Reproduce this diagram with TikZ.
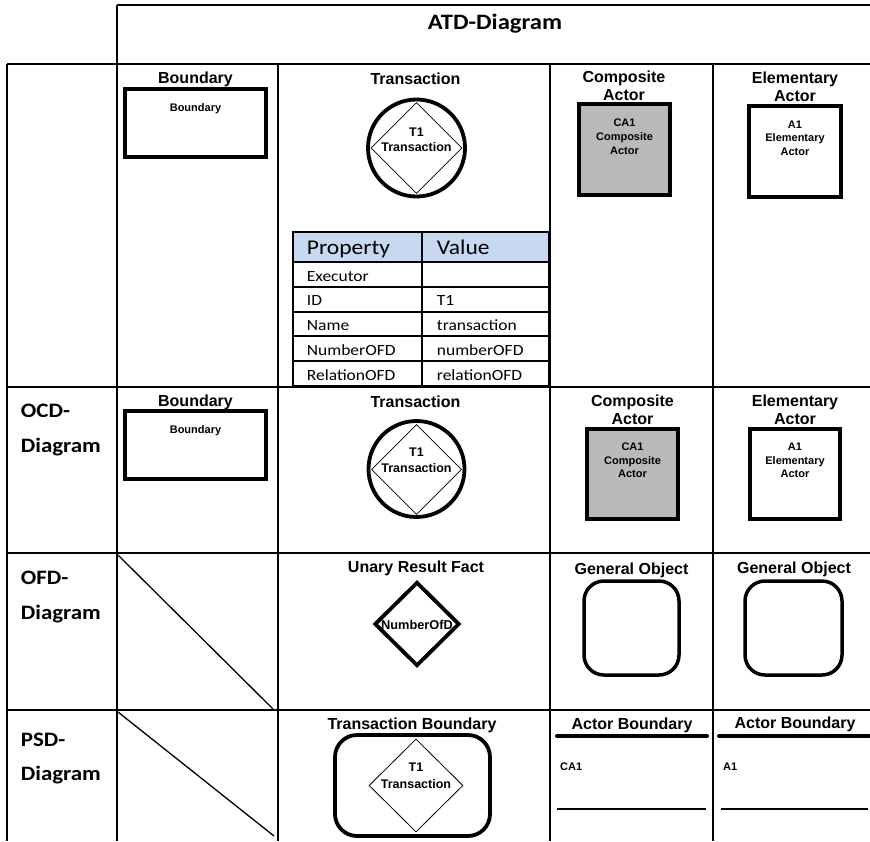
\documentclass[tikz,border=0pt]{standalone}
\usepackage{fontspec}
\setmainfont{Liberation Sans}
\newfontfamily\calfont[FakeStretch=1.12]{Carlito}
\usetikzlibrary{shapes.geometric}
\definecolor{compgray}{RGB}{185,185,185}
\definecolor{hdrblue}{RGB}{198,217,241}
\begin{document}
\begin{tikzpicture}[x=1pt,y=-1pt,
  gridline/.style={line width=2.8pt},
  thk/.style={draw, line width=3.8pt, inner sep=0pt},
  thn/.style={draw, line width=0.8pt, inner sep=0pt},
  ttl/.style={font=\fontsize{16}{18}\selectfont\bfseries, anchor=base, inner sep=0pt},
  inr/.style={font=\fontsize{11.5}{13}\selectfont\bfseries, anchor=base, inner sep=0pt},
  rowlbl/.style={font=\calfont\fontsize{20.5}{24}\selectfont\bfseries, anchor=base west, inner sep=0pt},
  tabtxt/.style={font=\calfont\fontsize{15.6}{17}\selectfont, anchor=base west, inner sep=0pt},
  tabhdr/.style={font=\calfont\fontsize{21}{25}\selectfont, anchor=base west, inner sep=0pt}]
\useasboundingbox (0,0) rectangle (870,841);
\fill[white] (0,0) rectangle (870,841);
% grid
\draw[gridline] (117,5) -- (870,5);
\draw[gridline] (117,5) -- (117,841);
\draw[gridline] (7,64) -- (870,64);
\draw[gridline] (7,64) -- (7,841);
\draw[gridline] (278,64) -- (278,841);
\draw[gridline] (550,64) -- (550,841);
\draw[gridline] (713,64) -- (713,841);
\draw[gridline] (7,387) -- (870,387);
\draw[gridline] (7,553) -- (870,553);
\draw[gridline] (7,710) -- (870,710);
% header
\node[font=\calfont\fontsize{22}{26}\selectfont\bfseries, anchor=base, inner sep=0pt] (hdr) at (495,29.3) {ATD-Diagram};
% row labels
\node[rowlbl] (ocd1) at (20.7,417.7) {OCD-};
\node[rowlbl] (ocd2) at (20.7,452.7) {Diagram};
\node[rowlbl] (ofd1) at (20.7,584.3) {OFD-};
\node[rowlbl] (ofd2) at (20.7,619.3) {Diagram};
\node[rowlbl] (psd1) at (20.7,746.5) {PSD-};
\node[rowlbl] (psd2) at (20.7,780) {Diagram};

% ===== Row 1 (ATD) =====
\node[ttl] (t1a) at (195.5,83.3) {Boundary};
\node[thk, minimum width=141pt, minimum height=68pt] (bnd1) at (195.5,123) {};
\node[inr, font=\fontsize{11}{13}\selectfont\bfseries] (bnd1t) at (195.5,111) {Boundary};

\node[ttl] (t1b) at (415.5,84.5) {Transaction};
\node[thk, circle, minimum size=97pt] (circ1) at (416.5,148) {};
\node[thn, diamond, aspect=1, minimum width=91pt, minimum height=91pt] (dia1) at (416.5,148) {};
\node[inr, font=\fontsize{12.5}{14}\selectfont\bfseries] (dia1a) at (416.5,136) {T1};
\node[inr, font=\fontsize{12.5}{14}\selectfont\bfseries] (dia1b) at (416.5,151.7) {Transaction};

\node[ttl] (t1c) at (624,82) {Composite};
\node[ttl] (t1c2) at (624,100) {Actor};
\node[thk, fill=compgray, minimum width=91pt, minimum height=91pt] (ca1) at (624.5,149.5) {};
\node[inr, font=\fontsize{11}{13}\selectfont\bfseries] (ca1a) at (624.5,126.7) {CA1};
\node[inr, font=\fontsize{11}{13}\selectfont\bfseries] (ca1b) at (624.5,140) {Composite};
\node[inr, font=\fontsize{11}{13}\selectfont\bfseries] (ca1c) at (624.5,154) {Actor};

\node[ttl] (t1d) at (795,83.3) {Elementary};
\node[ttl] (t1d2) at (795,101.7) {Actor};
\node[thk, fill=white, minimum width=92pt, minimum height=91pt] (ea1) at (795,151.5) {};
\node[inr, font=\fontsize{11}{13}\selectfont\bfseries] (ea1a) at (795,128) {A1};
\node[inr, font=\fontsize{11}{13}\selectfont\bfseries] (ea1b) at (795,141.7) {Elementary};
\node[inr, font=\fontsize{11}{13}\selectfont\bfseries] (ea1c) at (795,155.7) {Actor};

% table
\fill[hdrblue] (293,232) rectangle (549,262);
\draw[line width=1.6pt] (293,232) rectangle (549,386);
\foreach \yy in {262,287,312,336,361} \draw[line width=1.3pt] (293,\yy) -- (549,\yy);
\draw[line width=1.3pt] (422,232) -- (422,386);
\node[tabhdr] (tp) at (306.7,254.3) {Property};
\node[tabhdr] (tv) at (436.7,254.3) {Value};
\node[tabtxt] (r1a) at (306.7,281) {Executor};
\node[tabtxt] (r2a) at (306.7,305.8) {ID};
\node[tabtxt] (r2b) at (436.7,305.8) {T1};
\node[tabtxt] (r3a) at (306.7,330.6) {Name};
\node[tabtxt] (r3b) at (436.7,330.6) {transaction};
\node[tabtxt] (r4a) at (306.7,355.4) {NumberOFD};
\node[tabtxt] (r4b) at (436.7,355.4) {numberOFD};
\node[tabtxt] (r5a) at (306.7,380) {RelationOFD};
\node[tabtxt] (r5b) at (436.7,380) {relationOFD};

% ===== Row 2 (OCD) =====
\node[ttl] (t2a) at (195.5,406) {Boundary};
\node[thk, minimum width=141pt, minimum height=68pt] (bnd2) at (195.5,445) {};
\node[inr, font=\fontsize{11}{13}\selectfont\bfseries] (bnd2t) at (195.5,433.3) {Boundary};

\node[ttl] (t2b) at (415.5,407) {Transaction};
\node[thk, circle, minimum size=96pt] (circ2) at (416.5,469) {};
\node[thn, diamond, aspect=1, minimum width=90pt, minimum height=90pt] (dia2) at (416.5,469.5) {};
\node[inr, font=\fontsize{12.5}{14}\selectfont\bfseries] (dia2a) at (416.5,456) {T1};
\node[inr, font=\fontsize{12.5}{14}\selectfont\bfseries] (dia2b) at (416.5,472.7) {Transaction};

\node[ttl] (t2c) at (632.5,406.7) {Composite};
\node[ttl] (t2c2) at (632.5,424) {Actor};
\node[thk, fill=compgray, minimum width=91pt, minimum height=90pt] (ca2) at (632.5,474) {};
\node[inr, font=\fontsize{11}{13}\selectfont\bfseries] (ca2a) at (632.5,450) {CA1};
\node[inr, font=\fontsize{11}{13}\selectfont\bfseries] (ca2b) at (632.5,464) {Composite};
\node[inr, font=\fontsize{11}{13}\selectfont\bfseries] (ca2c) at (632.5,477.7) {Actor};

\node[ttl] (t2d) at (795,406.7) {Elementary};
\node[ttl] (t2d2) at (795,424) {Actor};
\node[thk, fill=white, minimum width=90pt, minimum height=90pt] (ea2) at (795,474) {};
\node[inr, font=\fontsize{11}{13}\selectfont\bfseries] (ea2a) at (795,450) {A1};
\node[inr, font=\fontsize{11}{13}\selectfont\bfseries] (ea2b) at (795,464) {Elementary};
\node[inr, font=\fontsize{11}{13}\selectfont\bfseries] (ea2c) at (795,477.7) {Actor};

% ===== Row 3 (OFD) =====
\draw[line width=1.3pt] (118,555) -- (273,709);
\node[ttl] (t3b) at (416,572.7) {Unary Result Fact};
\node[thk, diamond, aspect=1, minimum width=85pt, minimum height=84pt] (urf) at (417,624) {};
\node[inr, font=\fontsize{12.8}{15}\selectfont\bfseries] (urft) at (417,629) {NumberOfD};
\node[ttl] (t3c) at (631.5,574) {General Object};
\node[draw, line width=3.5pt, rounded corners=20pt, minimum width=95pt, minimum height=94pt] (go1) at (631.5,628) {};
\node[ttl] (t3d) at (794,573.5) {General Object};
\node[draw, line width=3.5pt, rounded corners=20pt, minimum width=97pt, minimum height=94pt] (go2) at (793.5,628) {};

% ===== Row 4 (PSD) =====
\draw[line width=1.3pt] (118,712) -- (274,836);
\node[ttl] (t4b) at (412,729) {Transaction Boundary};
\node[draw, line width=3.8pt, rounded corners=22pt, minimum width=155pt, minimum height=101pt] (tb) at (412.5,785.5) {};
\node[thn, diamond, aspect=1, minimum width=94pt, minimum height=93pt] (dia4) at (416,785.5) {};
\node[inr, font=\fontsize{12.5}{14}\selectfont\bfseries] (dia4a) at (416,771.7) {T1};
\node[inr, font=\fontsize{12.5}{14}\selectfont\bfseries] (dia4b) at (416,788.3) {Transaction};

\node[ttl] (t4c) at (632,729) {Actor Boundary};
\coordinate (ab1l) at (557,736); \coordinate (ab1r) at (707,736);
\draw[line width=4pt, line cap=round] (ab1l) -- (ab1r);
\node[inr, font=\fontsize{11}{13}\selectfont\bfseries, anchor=base west] (abt1) at (560,770) {CA1};
\coordinate (ab1bl) at (557,809); \coordinate (ab1br) at (706,809);
\draw[line width=1.2pt] (ab1bl) -- (ab1br);

\node[ttl] (t4d) at (795,728) {Actor Boundary};
\coordinate (ab2l) at (719,736); \coordinate (ab2r) at (869,736);
\draw[line width=4pt, line cap=round] (ab2l) -- (ab2r);
\node[inr, font=\fontsize{11}{13}\selectfont\bfseries, anchor=base west] (abt2) at (723,770) {A1};
\coordinate (ab2bl) at (721,809); \coordinate (ab2br) at (868,809);
\draw[line width=1.2pt] (ab2bl) -- (ab2br);
\end{tikzpicture}
\end{document}
